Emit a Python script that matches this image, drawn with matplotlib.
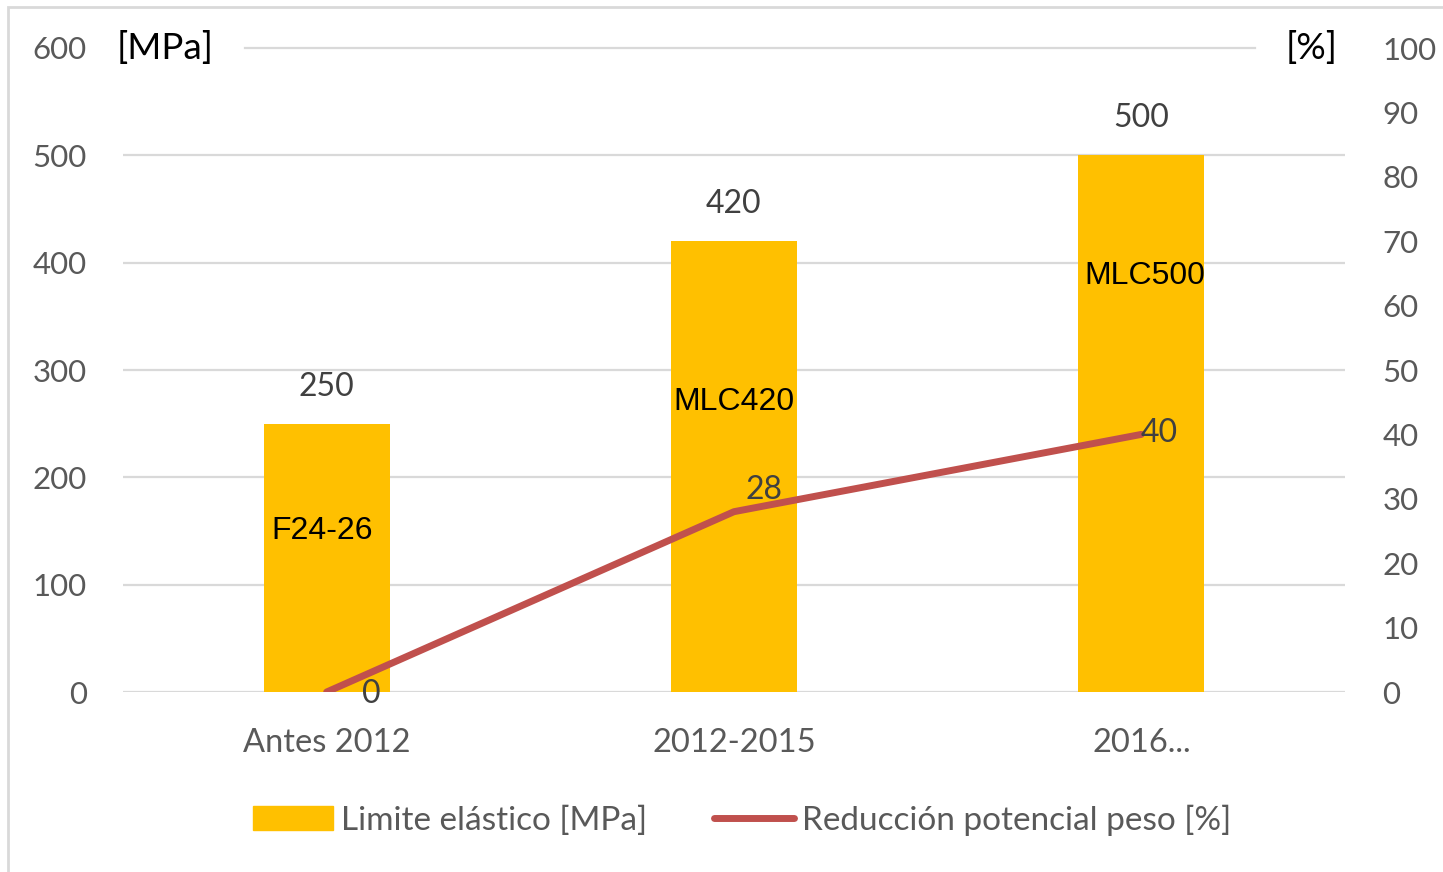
import matplotlib.pyplot as plt
from matplotlib.patches import Rectangle, Patch
from matplotlib.lines import Line2D

categories = ["Antes 2012", "2012-2015", "2016..."]
limite = [250, 420, 500]
reduccion = [0, 28, 40]
bar_names = ["F24-26", "MLC420", "MLC500"]
bar_name_y = [150, 270, 388]

plt.rcParams['font.family'] = ['Lato', 'DejaVu Sans']

fig = plt.figure(figsize=(14.43, 8.72), dpi=100)
ax = fig.add_axes([123 / 1443, 1 - 692 / 872, 1222 / 1443, 644 / 872])
ax2 = ax.twinx()

x = list(range(len(categories)))
ax.bar(x, limite, width=0.31, color="#FFC000", zorder=2)
ax.set_xlim(-0.5, 2.5)
ax.set_ylim(0, 600)
ax.set_yticks(range(0, 601, 100))
ax.set_xticks(x)
ax.set_xticklabels(categories)

# gridlines (top one interrupted by the unit labels)
for v in range(0, 501, 100):
    ax.axhline(v, color="#D9D9D9", lw=1.6, zorder=1)
ax.plot([0.0997, 0.926], [600, 600], color="#D9D9D9", lw=1.6,
        transform=ax.get_yaxis_transform(), clip_on=False, zorder=1)

for s in ax.spines.values():
    s.set_visible(False)
for s in ax2.spines.values():
    s.set_visible(False)

ax.tick_params(axis="y", length=0, pad=26, labelsize=22.5, labelcolor="#595959")
ax.tick_params(axis="x", length=0, pad=26, labelsize=23.5, labelcolor="#595959")

for xi, v in zip(x, limite):
    ax.annotate(str(v), (xi, v), xytext=(0, 37), textcoords="offset pixels",
                ha="center", va="center", fontsize=23, color="#404040")
name_dx = [-0.012, 0, 0.008]
for xi, name, y, dx in zip(x, bar_names, bar_name_y, name_dx):
    ax.text(xi + dx, y, name, ha="center", va="center", fontsize=23,
            color="black", family="Liberation Sans", zorder=4)

ax2.set_ylim(0, 100)
ax2.set_yticks(range(0, 101, 10))
ax2.tick_params(axis="y", length=0, pad=27, labelsize=22.5, labelcolor="#595959")
ax2.plot(x, reduccion, color="#C0504D", lw=5, solid_capstyle="round", zorder=3)

line_label_offsets = [(45, -2), (30, 22), (18, 1)]
for xi, v, off in zip(x, reduccion, line_label_offsets):
    ax2.annotate(str(v), (xi, v), xytext=off, textcoords="offset pixels",
                 ha="center", va="center", fontsize=23, color="#404040")

ax.text(-0.515, 600, "[MPa]", ha="left", va="center", fontsize=26.5, color="black")
ax2.text(2.483, 100, "[%]", ha="right", va="center", fontsize=26.5, color="black")

handles = [Patch(color="#FFC000"),
           Line2D([0], [0], color="#C0504D", lw=5, solid_capstyle="round")]
fig.legend(handles, ["Limite elástico [MPa]", "Reducción potencial peso [%]"],
           loc="center", bbox_to_anchor=(742 / 1443, 1 - 820 / 872), ncol=2,
           frameon=False, fontsize=24, labelcolor="#595959",
           handlelength=2.4, handleheight=0.7, handletextpad=0.25,
           columnspacing=2.0)

fig.patches.append(Rectangle((8 / 1443, -0.1), 2, 1 - 7 / 872 + 0.1,
                             transform=fig.transFigure, fill=False,
                             edgecolor="#D9D9D9", lw=2))

fig.savefig("out.png", dpi=100)
